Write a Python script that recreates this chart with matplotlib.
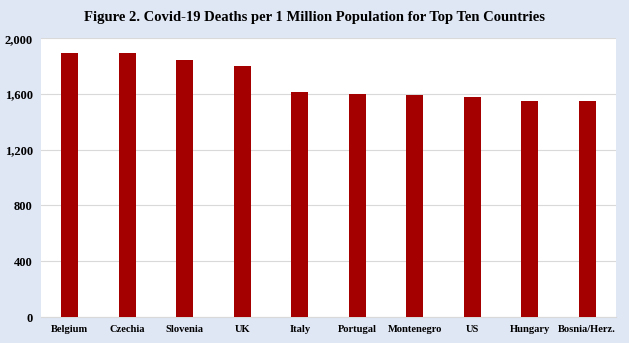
import matplotlib.pyplot as plt
from matplotlib.ticker import FuncFormatter

countries = ["Belgium", "Czechia", "Slovenia", "UK", "Italy", "Portugal",
             "Montenegro", "US", "Hungary", "Bosnia/Herz."]
deaths = [1896, 1896, 1844, 1803, 1616, 1600, 1595, 1580, 1552, 1552]
yticks = [0, 400, 800, 1200, 1600, 2000]

plt.rcParams['font.family'] = ['Liberation Serif', 'DejaVu Serif']

fig = plt.figure(figsize=(6.29, 3.43), dpi=100, facecolor='#dfe6f4')
ax = fig.add_axes([0.0652, 0.0758, 0.9141, 0.8127])
ax.set_facecolor('white')

x = range(len(countries))
ax.bar(x, deaths, width=0.3, color='#a50000', zorder=3)

ax.set_xlim(-0.5, len(countries) - 0.5)
ax.set_ylim(0, 2000)
ax.set_yticks(yticks)
ax.yaxis.set_major_formatter(FuncFormatter(lambda v, p: f"{int(v):,}"))
ax.set_xticks(list(x))
ax.set_xticklabels(countries, fontweight='bold', fontsize=7.6)
for lab in ax.get_yticklabels():
    lab.set_fontweight('bold')
    lab.set_fontsize(9)

ax.grid(axis='y', color='#d9d9d9', linewidth=0.8, zorder=0)
for s in ['top', 'right', 'left']:
    ax.spines[s].set_visible(False)
ax.spines['bottom'].set_color('#d9d9d9')
ax.tick_params(length=0, pad=6)
ax.tick_params(axis='y', pad=6)

fig.text(0.5, 0.948, "Figure 2. Covid-19 Deaths per 1 Million Population for Top Ten Countries",
         ha='center', va='center', fontsize=10.5, fontweight='bold')

fig.savefig('out.png', dpi=100, facecolor=fig.get_facecolor())
